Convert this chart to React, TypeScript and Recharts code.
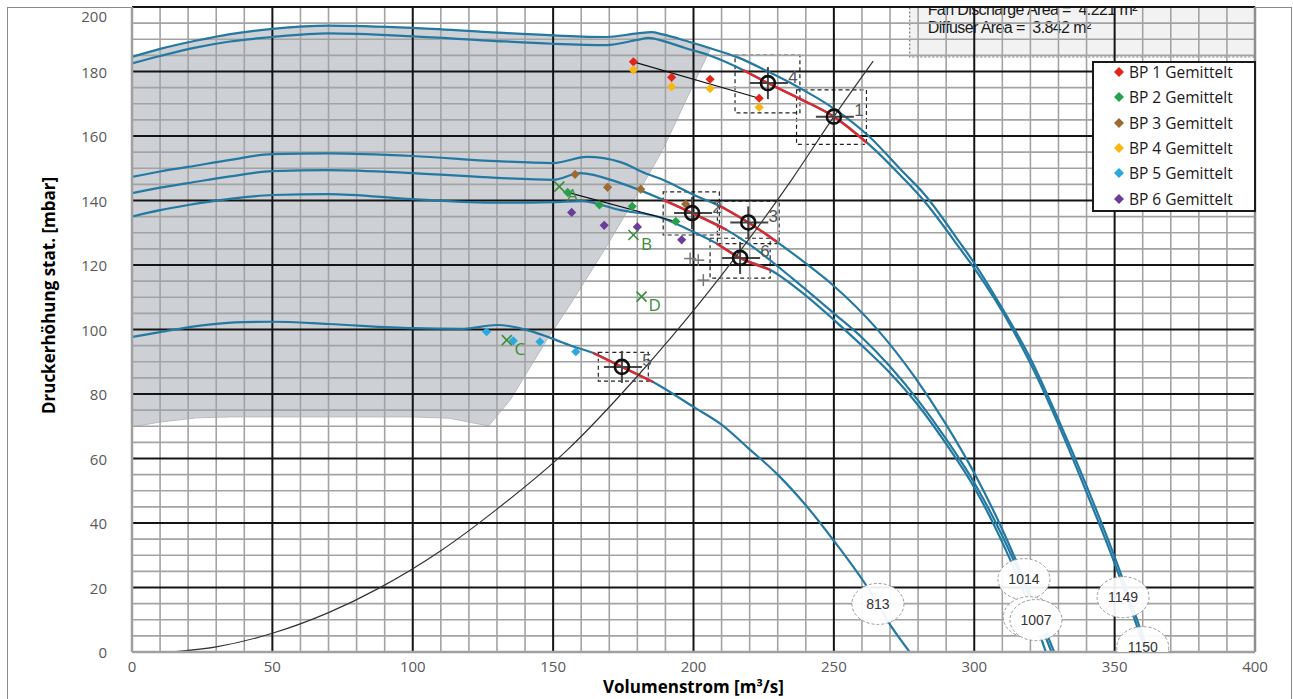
import React from 'react';
import {
  ComposedChart, Line, Area, Scatter, XAxis, YAxis,
  ReferenceLine, ReferenceArea, ReferenceDot, Legend,
} from 'recharts';

const CHART_W = 1293;
const CHART_H = 699;
const PLOT_TOP = 7;
const PLOT_BOTTOM = 652;
const Y_MAX = 200;

const xTicks = [0, 50, 100, 150, 200, 250, 300, 350, 400];
const yTicks = [0, 20, 40, 60, 80, 100, 120, 140, 160, 180, 200];
const xMinor = Array.from({ length: 39 }, (_, i) => (i + 1) * 10).filter((v) => v % 50 !== 0);
const yMinor = Array.from({ length: 39 }, (_, i) => (i + 1) * 5).filter((v) => v % 20 !== 0);
const xMajor = [50, 100, 150, 200, 250, 300, 350];
const yMajor = [20, 40, 60, 80, 100, 120, 140, 160, 180, 200];

type Pt = [number, number];

// Fan curves
const curve1149: Pt[] = [
  [0, 184.5], [10, 187], [23, 189.6], [35, 191.6], [50, 193.2], [70, 194.2], [100, 193.5], [127, 192.2],
  [150, 191.2], [169, 190.7], [180, 191.8], [185, 192.2], [189, 191.5], [197, 189.6], [206, 187.2],
  [216, 184.3], [226, 180.2], [238, 174.8], [250, 168.5], [262, 160.3], [275, 148.5], [282, 142.2],
  [295, 126.8], [300, 120.6], [310, 106.5], [320, 91], [330, 72], [340, 51.5], [350, 29.5], [356, 15], [362, 0],
];
const curve1150: Pt[] = [
  [0, 182.5], [10, 184.8], [23, 187.5], [35, 189.3], [50, 190.7], [70, 191.8], [100, 190.9], [127, 189.6],
  [150, 188.6], [169, 188.2], [180, 189.8], [184, 190.4], [189, 189.5], [197, 187.3], [206, 184.9],
  [217.6, 180.5], [226.5, 176.4], [238, 171.5], [250, 166], [262, 157.8], [274.6, 147], [282, 140],
  [295, 125], [300, 119], [314, 99.5], [320, 89.5], [330, 70.5], [340, 49.5], [350, 27.5], [356, 13], [361, 0],
];
const curve1014: Pt[] = [
  [0, 147.3], [10, 149], [20, 150.4], [35, 152.6], [50, 154.4], [70, 154.6], [100, 153.8], [130, 152.2],
  [150, 151.6], [162, 153.5], [174, 151.9], [183, 148.4], [188, 146.8], [202, 141], [209.4, 138.3],
  [219.5, 133.2], [229.7, 127.2], [240, 120.5], [250, 113.5], [265, 100.5], [279, 85], [290, 70.5],
  [300, 55.5], [310, 38], [318, 22], [324, 9.5], [328.5, 0],
];
const curve1007a: Pt[] = [
  [0, 142.3], [10, 144], [20, 145.4], [35, 147.5], [50, 149.1], [70, 149.4], [100, 148.5], [130, 147],
  [150, 146.4], [159.6, 148.5], [174, 145.4], [189.2, 140.2], [199.5, 136.1], [211.8, 130.9], [220, 126.3],
  [235, 116], [250, 105], [260, 97.5], [270, 88.5], [280, 78], [290, 66], [300, 52.5], [310, 36],
  [318, 20.5], [323, 10], [327.5, 0],
];
const curve1007b: Pt[] = [
  [0, 135], [10, 137], [20, 138.6], [35, 140.5], [50, 141.7], [70, 142], [100, 140.4], [130, 139.3],
  [150, 139.5], [160, 139.8], [174, 137], [188, 134.8], [197, 131.5], [208.2, 126.7], [216.6, 122.2],
  [227.3, 118.5], [240, 110.5], [250, 103], [260, 95], [270, 86.5], [280, 76.5], [290, 64.5], [300, 51],
  [310, 34], [317, 20], [321.5, 10], [325.5, 0],
];
const curve813: Pt[] = [
  [0, 97.7], [10, 99.2], [25, 101.3], [40, 102.3], [50, 102.4], [70, 101.7], [100, 100.4], [118, 100.2],
  [130, 101.4], [142, 99.5], [149, 97.4], [158, 94.5], [164.3, 92.7], [174.5, 88.4], [185.6, 83.7],
  [200, 76], [210, 70.5], [219.4, 63.3], [230, 55], [240, 45.5], [250, 34.5], [262, 20], [270, 8.5], [277, 0],
];
const systemCurve: Pt[] = [
  [14, 0], [30, 1.6], [50, 5.8], [70, 12.2], [88, 19.8], [110, 31.4], [130, 44.3], [155, 62.6],
  [180, 85.5], [203, 109.1], [220, 128.3], [235, 146.5], [250, 166], [264, 183.2],
];

// red operating ranges
const red41: Pt[] = [[217.6, 180.5], [226.5, 176.4], [238, 171.5], [250, 166], [261.8, 157.8]];
const red3: Pt[] = [[209.4, 138.3], [219.5, 133.2], [229.7, 127.2]];
const red2: Pt[] = [[189.2, 140.2], [199.5, 136.1], [211.8, 130.9]];
const red6: Pt[] = [[208.2, 126.7], [216.6, 122.2], [227.3, 118.5]];
const red5: Pt[] = [[164.3, 92.7], [174.5, 88.4], [185.6, 83.7]];

// shaded region
const shadeX = [0, 10, 23, 35, 50, 70, 100, 113, 127, 134.6, 147.7, 157, 169.2, 180, 185, 189.2, 197, 205.9];
const shadeLow = [69.8, 71.3, 72.6, 72.9, 72.9, 72.9, 72.9, 72.5, 70.1, 78, 96.7, 109, 126, 142, 149.5, 156, 170.5, 186.8];
const shadeHigh = [184.5, 187, 189.6, 191.6, 193.2, 194.2, 193.5, 193, 192.2, 191.8, 191.2, 190.9, 190.7, 191.8, 192.2, 191.5, 189.6, 186.8];

// measured points
const bp1: Pt[] = [[178.6, 183.0], [192.2, 178.2], [205.9, 177.6], [223.4, 171.7]];
const bp2: Pt[] = [[155.2, 142.5], [166.5, 138.6], [178.2, 138.2], [193.7, 133.5]];
const bp3: Pt[] = [[157.8, 148.1], [169.4, 144.1], [181.2, 143.5], [197.2, 138.9]];
const bp4: Pt[] = [[178.6, 180.5], [192.2, 175.3], [205.9, 174.7], [223.4, 168.9]];
const bp5: Pt[] = [[126.3, 99.3], [135.8, 96.5], [145.3, 96.2], [158.1, 93.1]];
const bp6: Pt[] = [[156.6, 136.3], [168.2, 132.3], [180, 131.8], [195.8, 127.8]];
const bpNames = ['BP 1 Gemittelt', 'BP 2 Gemittelt', 'BP 3 Gemittelt', 'BP 4 Gemittelt', 'BP 5 Gemittelt', 'BP 6 Gemittelt'];
const bpColors = ['#e1251b', '#27a24c', '#9b6a35', '#f9b512', '#2aa9e0', '#6a3d9a'];
const bpData = [bp1, bp2, bp3, bp4, bp5, bp6];

const link1: Pt[] = [[178.6, 183.0], [223.4, 171.7]];
const link2: Pt[] = [[155.2, 142.5], [193.7, 133.5]];

const crossPts = [
  { x: 152.2, y: 144.3, label: 'A' },
  { x: 178.6, y: 129.3, label: 'B' },
  { x: 133.5, y: 96.7, label: 'C' },
  { x: 181.5, y: 110.2, label: 'D' },
];
const plusPts: Pt[] = [[198.8, 122], [201.7, 121.5], [203.5, 115.3]];

const opPts = [
  { x: 250, y: 166, label: '1' },
  { x: 199.5, y: 136.1, label: '2' },
  { x: 219.5, y: 133.2, label: '3' },
  { x: 226.5, y: 176.4, label: '4' },
  { x: 174.5, y: 88.4, label: '5' },
  { x: 216.6, y: 122.2, label: '6' },
];
const opBoxes = [
  { x1: 236.7, x2: 261.6, y1: 157.4, y2: 174.3 },
  { x1: 189.2, x2: 209.2, y1: 129.3, y2: 142.7 },
  { x1: 208.5, x2: 230.5, y1: 126.6, y2: 139.8 },
  { x1: 214.8, x2: 237.9, y1: 167.2, y2: 185.1 },
  { x1: 166.1, x2: 183.9, y1: 84.0, y2: 92.9 },
  { x1: 205.9, x2: 227.3, y1: 115.9, y2: 128.3 },
];

const speedLabels = [
  { x: 265.7, y: 14.9, text: '813' },
  { x: 317.7, y: 22.6, text: '1014' },
  { x: 319.6, y: 10.8, text: '' },
  { x: 322.0, y: 9.9, text: '1007' },
  { x: 353.0, y: 17.0, text: '1149' },
  { x: 360.0, y: 1.5, text: '1150' },
];

const infoLines = ['Fan Discharge Area =\u00A0\u00A04.221 m²', 'Diffuser Area =\u00A0\u00A03.842 m²'];

const BLUE = '#2479a2';
const RED = '#e3262b';
const GRID_MINOR = '#a3a3a3';
const GRID_MAJOR = '#141414';

const toXY = (pts: Pt[]) => pts.map(([x, y]) => ({ x, y }));
const shadeData = shadeX.map((x, i) => ({ x, range: [shadeLow[i], shadeHigh[i]] }));

const Diamond = (p: any) => {
  const s = 4.6;
  return <polygon points={`${p.cx},${p.cy - s} ${p.cx + s},${p.cy} ${p.cx},${p.cy + s} ${p.cx - s},${p.cy}`} fill={p.fill} />;
};

const CrossMark = (p: any) => {
  const s = 5;
  const c = '#3a8d3a';
  return (
    <g>
      <line x1={p.cx - s} y1={p.cy - s} x2={p.cx + s} y2={p.cy + s} stroke={c} strokeWidth={1.6} />
      <line x1={p.cx - s} y1={p.cy + s} x2={p.cx + s} y2={p.cy - s} stroke={c} strokeWidth={1.6} />
      <text x={p.cx + 13} y={p.cy + 8} textAnchor="middle" dominantBaseline="central" fill={c} fontSize={17} fontFamily="Open Sans, sans-serif">{p.payload.label}</text>
    </g>
  );
};

const PlusMark = (p: any) => (
  <g stroke="#777" strokeWidth={1.5}>
    <line x1={p.cx - 6} y1={p.cy} x2={p.cx + 6} y2={p.cy} />
    <line x1={p.cx} y1={p.cy - 6} x2={p.cx} y2={p.cy + 6} />
  </g>
);

const OpMark = (p: any) => (
  <g>
    <line x1={p.cx - 18} y1={p.cy} x2={p.cx + 20} y2={p.cy} stroke="#444" strokeWidth={2} />
    <line x1={p.cx} y1={p.cy - 16} x2={p.cx} y2={p.cy + 16} stroke="#444" strokeWidth={2} />
    <circle cx={p.cx} cy={p.cy} r={7} fill="none" stroke="#111" strokeWidth={2.6} />
    <text x={p.cx + 25} y={p.cy - 6} textAnchor="middle" dominantBaseline="central" fill="#555" fontSize={17} fontFamily="Liberation Sans, Arial, sans-serif">{p.payload.label}</text>
  </g>
);

const pxPerUnit = (PLOT_BOTTOM - PLOT_TOP) / Y_MAX;

const SpeedShape = (text: string, yVal: number, idx: number) => (p: any) => {
  const below = yVal * pxPerUnit;
  const id = `spClip${idx}`;
  return (
    <g>
      <defs>
        <clipPath id={id}>
          <rect x={p.cx - 40} y={p.cy - 40} width={80} height={40 + below} />
        </clipPath>
      </defs>
      <g clipPath={`url(#${id})`}>
        <ellipse cx={p.cx} cy={p.cy} rx={26} ry={20.5} fill="#fff" fillOpacity={0.92} stroke="#9a9a9a" strokeWidth={1} strokeDasharray="3 2" />
        {text ? (
          <text x={p.cx} y={p.cy} textAnchor="middle" dominantBaseline="central" fill="#333" fontSize={14} fontFamily="Liberation Sans, Arial, sans-serif">{text}</text>
        ) : null}
      </g>
    </g>
  );
};

const InfoBox = (props: any) => {
  const vb = props.viewBox || { x: 0, y: 0, width: 0, height: 0 };
  return (
    <g>
      <defs>
        <clipPath id="infoClip">
          <rect x={vb.x} y={vb.y} width={vb.width} height={vb.height} />
        </clipPath>
      </defs>
      <g clipPath="url(#infoClip)" fontFamily="Liberation Sans, Arial, sans-serif" fontSize={16} fill="#1a1a1a" letterSpacing={-0.6}>
        <text x={vb.x + 18} y={vb.y + 8}>{infoLines[0]}</text>
        <text x={vb.x + 18} y={vb.y + 26}>{infoLines[1]}</text>
      </g>
    </g>
  );
};

const XTick = (p: any) => (
  <text x={p.x} y={p.y} textAnchor="middle" dominantBaseline="central" fill="#595959" fontSize={15} fontFamily="Open Sans, sans-serif">{p.payload.value}</text>
);
const YTick = (p: any) => {
  const v = p.payload.value;
  return (
    <text x={p.x} y={p.y + (v === 200 ? 9 : 0)} textAnchor="end" dominantBaseline="central" fill="#595959" fontSize={15} fontFamily="Open Sans, sans-serif">{v}</text>
  );
};

const XTitle = (props: any) => {
  const vb = props.viewBox;
  return (
    <text x={vb.x + vb.width / 2} y={vb.y + 34} textAnchor="middle" dominantBaseline="central" fontWeight={700} fontSize={17} fill="#000" fontFamily="Open Sans, sans-serif">Volumenstrom [m³/s]</text>
  );
};
const YTitle = (props: any) => {
  const vb = props.viewBox;
  const cx = 48;
  const cy = vb.y + vb.height / 2 - 34;
  return (
    <text x={cx} y={cy} transform={`rotate(-90 ${cx} ${cy})`} textAnchor="middle" dominantBaseline="central" fontWeight={700} fontSize={17} fill="#000" fontFamily="Open Sans, sans-serif">Druckerhöhung stat. [mbar]</text>
  );
};

const LegendBox = () => (
  <div style={{ position: 'relative', width: 164, height: 151, border: '2px solid #1a1a1a', background: '#fff', boxSizing: 'border-box', fontFamily: 'Open Sans, sans-serif', fontSize: 15.5, color: '#1a1a1a' }}>
    {bpNames.map((n, i) => (
      <div key={n} style={{ position: 'absolute', left: 0, top: 11 + i * 25.3 - 2 - 10, height: 20, lineHeight: '20px', whiteSpace: 'nowrap' }}>
        <svg width={12} height={12} style={{ position: 'absolute', left: 19, top: 4 }}>
          <polygon points="6,1 11,6 6,11 1,6" fill={bpColors[i]} />
        </svg>
        <span style={{ position: 'absolute', left: 35, top: 0 }}>{n}</span>
      </div>
    ))}
  </div>
);

const blueLine = (pts: Pt[], key: string) => (
  <Line key={key} data={toXY(pts)} dataKey="y" type="monotone" stroke={BLUE} strokeWidth={2.2} dot={false} activeDot={false} isAnimationActive={false} legendType="none" />
);
const redLine = (pts: Pt[], key: string) => (
  <Line key={key} data={toXY(pts)} dataKey="y" type="monotone" stroke={RED} strokeWidth={2.4} dot={false} activeDot={false} isAnimationActive={false} legendType="none" />
);

export default function App() {
  return (
    <div style={{ position: 'absolute', left: 0, top: 0, width: CHART_W, height: CHART_H, background: '#fff', overflow: 'hidden' }}>
      <div style={{ position: 'absolute', left: 7, top: 7, width: CHART_W - 8, height: CHART_H, borderLeft: '1.5px solid #8a8a8a', borderTop: '1.5px solid #8a8a8a', borderRight: '1.5px solid #8a8a8a', boxSizing: 'border-box' }} />
      <ComposedChart width={CHART_W} height={CHART_H} margin={{ top: PLOT_TOP, right: 38, bottom: 0, left: 0 }} style={{ position: 'absolute', left: 0, top: 0 }}>
        <XAxis type="number" dataKey="x" domain={[0, 400]} ticks={xTicks} interval={0} allowDataOverflow height={CHART_H - PLOT_BOTTOM}
          tickSize={0} tickMargin={14} tick={<XTick />} axisLine={{ stroke: '#a0a0a0', strokeWidth: 2.5 }} label={<XTitle />} />
        <YAxis type="number" domain={[0, Y_MAX]} ticks={yTicks} interval={0} allowDataOverflow width={132}
          tickSize={0} tickMargin={25} tick={<YTick />} axisLine={{ stroke: '#a0a0a0', strokeWidth: 2.5 }} label={<YTitle />} />

        <Area data={shadeData} dataKey="range" type="linear" stroke="#b8bbc0" strokeWidth={1} fill="#7c838e" fillOpacity={0.38}
          isAnimationActive={false} legendType="none" dot={false} activeDot={false} />

        {xMinor.map((v) => <ReferenceLine key={'xm' + v} x={v} stroke={GRID_MINOR} strokeWidth={1.6} />)}
        {yMinor.map((v) => <ReferenceLine key={'ym' + v} y={v} stroke={GRID_MINOR} strokeWidth={1.6} />)}
        {xMajor.map((v) => <ReferenceLine key={'xM' + v} x={v} stroke={GRID_MAJOR} strokeWidth={2} />)}
        {yMajor.map((v) => <ReferenceLine key={'yM' + v} y={v} stroke={GRID_MAJOR} strokeWidth={2} />)}
        <ReferenceLine x={400} stroke="#8f8f8f" strokeWidth={2.5} />

        <ReferenceArea x1={277} x2={400} y1={184.5} y2={200} fill="#d9d9d9" fillOpacity={0.35} stroke="#7a7a7a" strokeDasharray="2 2" strokeWidth={1.2} label={<InfoBox />} />

        {blueLine(curve1149, 'c1149')}
        {blueLine(curve1150, 'c1150')}
        {blueLine(curve1014, 'c1014')}
        {blueLine(curve1007a, 'c1007a')}
        {blueLine(curve1007b, 'c1007b')}
        {blueLine(curve813, 'c813')}

        {redLine(red41, 'r41')}
        {redLine(red3, 'r3')}
        {redLine(red2, 'r2')}
        {redLine(red6, 'r6')}
        {redLine(red5, 'r5')}

        <Line data={toXY(systemCurve)} dataKey="y" type="monotone" stroke="#333" strokeWidth={1.2} dot={false} activeDot={false} isAnimationActive={false} legendType="none" />
        <Line data={toXY(link1)} dataKey="y" type="linear" stroke="#111" strokeWidth={1.2} dot={false} activeDot={false} isAnimationActive={false} legendType="none" />
        <Line data={toXY(link2)} dataKey="y" type="linear" stroke="#111" strokeWidth={1.2} dot={false} activeDot={false} isAnimationActive={false} legendType="none" />

        {opBoxes.map((b, i) => (
          <ReferenceArea key={'box' + i} x1={b.x1} x2={b.x2} y1={b.y1} y2={b.y2} fill="none" fillOpacity={0} stroke="#222" strokeDasharray="4 3" strokeWidth={1.2} />
        ))}

        {bpData.map((d, i) => (
          <Scatter key={bpNames[i]} name={bpNames[i]} data={toXY(d)} dataKey="y" fill={bpColors[i]} shape={<Diamond />} isAnimationActive={false} />
        ))}
        <Scatter data={crossPts} dataKey="y" fill="#3a8d3a" shape={<CrossMark />} isAnimationActive={false} legendType="none" />
        <Scatter data={toXY(plusPts)} dataKey="y" fill="#777" shape={<PlusMark />} isAnimationActive={false} legendType="none" />
        <Scatter data={opPts} dataKey="y" fill="#111" shape={<OpMark />} isAnimationActive={false} legendType="none" />

        {speedLabels.map((s, i) => (
          <ReferenceDot key={'sp' + i} x={s.x} y={s.y} r={20} ifOverflow="extendDomain" shape={SpeedShape(s.text, s.y, i)} />
        ))}

        <Legend content={<LegendBox />} layout="vertical" align="center" verticalAlign="middle"
          wrapperStyle={{ left: 1092, top: 61, width: 164, height: 151 }} />
      </ComposedChart>
    </div>
  );
}
